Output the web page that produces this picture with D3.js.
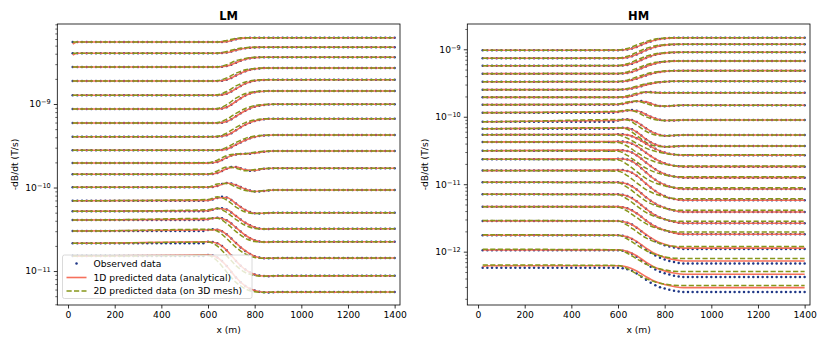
<!DOCTYPE html>
<meta charset="utf-8">
<style>
body { margin: 0; background: #fff; }
svg { font-family: "DejaVu Sans", sans-serif; }
</style>
<body>
<script src="https://cdn.jsdelivr.net/npm/d3@7"></script>
<script>

// receiver stations along the line (m)
var stations = d3.range(20, 1401, 20);
// stations where the soundings bend (the obs "mid" arrays below)
var midStations = d3.range(600, 881, 20);
// x positions of the predicted-curve values
var knots = [20, 40, 600, 640, 680, 720, 760, 800, 840, 880, 1400];
var xTicks = [0, 200, 400, 600, 800, 1000, 1200, 1400];

// all -dB/dt values are in pT/s (1e-12 T/s), one row per time channel
var pT = 1e-12;

// ---------- LM ----------
var lmObsLeft  = [5530, 4050, 2770, 1885, 1271, 871, 592, 406, 279, 196.5, 144, 100.6, 69.5, 51.9, 40.8, 30.1, 21.5, 15.1];
var lmObsRight = [6220, 4780, 3630, 2700, 1954, 1431, 992, 667, 425, 274, 170, 93.3, 49.9, 32.1, 22.4, 14.3, 8.78, 5.60];
var lmObsMid = [
  [5530,5530,5530,5540,5590,5760,5970,6120,6190,6220,6220,6220,6220,6220,6220],
  [4050,4050,4050,4070,4130,4260,4400,4550,4660,4730,4760,4780,4780,4780,4780],
  [2770,2770,2770,2790,2850,2960,3130,3300,3430,3520,3590,3630,3630,3630,3630],
  [1885,1885,1885,1905,1955,2055,2190,2340,2470,2565,2630,2670,2690,2700,2700],
  [1271,1271,1271,1288,1327,1410,1523,1646,1755,1839,1896,1929,1945,1954,1954],
  [871,871,871,884,915,982,1073,1173,1264,1335,1381,1409,1423,1431,1431],
  [592,592,592,598,617,657,713,774,832,885,927,956,976,987,992],
  [406,406,406,410,422,448,486,526,564,598,625,644,657,664,667],
  [279,279,279,281,288,303,325,347,369,388,403,413,420,423,425],
  [196,198,202,213,228,241,249,252,253,254,259,265,269,272,274],
  [144,145,149,158,168,176,176,170,163,159,160,164,168,169,170],
  [100.6,101.4,104.2,110.2,113.2,111.7,107.2,101.4,95.9,92.0,89.5,89.5,90.8,92.0,93.3],
  [70.2,71.8,74.9,77.4,75.9,70.9,64.3,58.4,53.8,50.9,49.1,48.8,49.2,49.5,49.9],
  [52.6,54.1,56.0,56.5,54.5,50.2,45.6,41.4,37.9,35.3,33.5,32.4,31.8,31.8,32.0],
  [41.6,42.8,43.5,42.9,40.5,37.1,33.2,29.7,26.8,24.7,23.3,22.6,22.2,22.2,22.4],
  [31.0,31.6,31.3,30.0,27.5,24.5,21.6,19.2,17.4,16.0,15.0,14.5,14.2,14.2,14.2],
  [22.4,22.2,21.5,19.9,17.7,15.3,13.2,11.6,10.4,9.6,9.1,8.83,8.71,8.69,8.71],
  [15.6,15.3,14.5,13.2,11.5,9.73,8.36,7.32,6.61,6.12,5.83,5.65,5.56,5.55,5.56]
];
var lm1D = [
  [5230,5530,5530,5530,5590,5970,6190,6220,6220,6220,6220],
  [3860,4050,4050,4050,4130,4400,4660,4760,4780,4780,4780],
  [2770,2770,2770,2770,2850,3130,3430,3590,3630,3630,3630],
  [1885,1885,1885,1885,1955,2190,2470,2630,2690,2700,2700],
  [1271,1271,1271,1271,1327,1523,1755,1896,1945,1954,1954],
  [871,871,871,871,915,1073,1264,1381,1423,1431,1431],
  [592,592,592,592,617,713,832,927,976,992,992],
  [406,406,406,406,422,486,564,625,657,667,667],
  [279,279,279,279,288,325,369,403,420,425,425],
  [196.5,196.5,196,202,228,249,253,259,269,274,274],
  [144,144,144,149,168,176,163,160,168,170,170],
  [100.6,100.6,100.6,104.2,113.2,107.2,95.9,89.5,90.8,93.3,93.3],
  [69.5,69.5,70.2,74.9,75.9,64.3,53.8,49.1,49.2,49.9,49.9],
  [51.9,51.9,52.6,56.0,54.5,45.6,37.9,33.5,31.8,32.0,32.1],
  [40.8,40.8,41.6,43.5,40.5,33.2,26.8,23.3,22.2,22.4,22.4],
  [30.1,30.1,31.0,31.3,27.5,21.6,17.4,15.0,14.2,14.2,14.3],
  [21.5,21.5,22.4,21.5,17.7,13.2,10.4,9.1,8.71,8.71,8.78],
  [15.1,15.1,15.6,14.5,11.5,8.36,6.61,5.83,5.56,5.56,5.60]
];
var lm2D = [
  [5530,5530,5530,5540,5760,6120,6220,6220,6220,6220,6220],
  [4050,4050,4050,4070,4260,4550,4730,4780,4780,4780,4780],
  [2770,2770,2770,2790,2960,3300,3520,3630,3630,3630,3630],
  [1885,1885,1885,1905,2055,2340,2565,2670,2700,2700,2700],
  [1271,1271,1271,1288,1410,1646,1839,1929,1954,1954,1954],
  [871,871,871,884,982,1173,1335,1409,1431,1431,1431],
  [592,592,592,598,657,774,885,956,987,992,992],
  [406,406,406,410,448,526,598,644,664,667,667],
  [279,279,279,281,303,347,388,413,423,425,425],
  [196.5,196.5,198,213,241,252,254,265,272,274,274],
  [144,144,145,158,176,170,159,164,169,170,170],
  [100.6,100.6,101.4,110.2,111.7,101.4,92.0,89.5,92.0,93.3,93.3],
  [69.5,69.5,71.8,77.4,70.9,58.4,50.9,48.8,49.5,49.9,49.9],
  [51.9,51.9,54.1,56.5,50.2,41.4,35.3,32.4,31.8,32.1,32.1],
  [40.8,40.8,42.8,42.9,37.1,29.7,24.7,22.6,22.2,22.4,22.4],
  [30.1,30.1,31.6,30.0,24.5,19.2,16.0,14.5,14.2,14.3,14.3],
  [21.5,21.5,22.2,19.9,15.3,11.6,9.6,8.83,8.69,8.78,8.78],
  [15.1,15.1,15.3,13.2,9.73,7.32,6.12,5.65,5.55,5.60,5.60]
];

// ---------- HM ----------
var hmObsLeft  = [967, 736, 571, 435, 331, 252, 194, 151, 115, 84.5, 66.5, 54.2, 42.3, 31.4, 23.4, 15.9, 10.7, 7.09, 4.65, 2.85, 1.75, 1.05, 0.579];
var hmObsRight = [1485, 1186, 903, 671, 482, 336, 227, 148, 89.6, 53.7, 36.9, 26.9, 18.2, 12.5, 8.50, 5.78, 3.88, 2.64, 1.81, 1.10, 0.668, 0.422, 0.253];
var hmObsMid = [
  [967,975,992,1027,1085,1158,1235,1306,1369,1417,1448,1466,1478,1485,1485],
  [736,743,757,786,837,899,966,1028,1083,1125,1153,1170,1181,1186,1186],
  [571,577,587,609,646,692,742,787,827,858,878,890,899,903,903],
  [435,439,446,462,489,522,557,589,618,640,654,662,668,671,671],
  [331,334,339,349,367,388,410,430,449,462,471,476,480,482,482],
  [252,253,256,262,272,284,297,308,318,325,330,333,335,336,336],
  [194,195,197,204,214,224,231,233,229,226,226,227,227,227,227],
  [152,155,160,166,170,171,166,157,149,144,143,144,146,147,148],
  [118,121,124,126,123,117,108,99.9,93.9,90.2,88.0,87.7,88.3,88.9,89.6],
  [88.0,90.8,91.7,89.6,83.6,75.5,67.5,60.9,56.3,53.7,52.4,52.2,52.8,53.3,53.7],
  [68.2,68.9,68.2,65.2,59.5,52.6,46.5,41.8,38.7,36.9,36.0,35.9,36.1,36.5,36.9],
  [55.0,55.0,53.8,51.6,48.1,43.9,39.8,36.3,33.4,31.1,29.6,28.4,27.6,27.2,26.9],
  [43.0,43.0,41.9,39.9,36.7,32.8,29.2,26.2,23.7,21.7,20.5,19.5,18.8,18.5,18.2],
  [32.0,32.0,31.1,29.4,26.9,23.8,20.9,18.6,16.6,15.2,14.2,13.5,13.0,12.7,12.5],
  [23.9,23.9,23.2,21.8,19.7,17.3,15.0,13.1,11.6,10.5,9.79,9.21,8.84,8.67,8.50],
  [16.2,16.2,15.7,14.8,13.4,11.7,10.2,8.93,7.91,7.15,6.66,6.27,6.02,5.90,5.78],
  [10.7,10.5,10.1,9.36,8.37,7.34,6.43,5.70,5.15,4.75,4.47,4.25,4.08,3.96,3.88],
  [7.09,6.95,6.68,6.23,5.59,4.92,4.32,3.84,3.48,3.21,3.03,2.88,2.77,2.69,2.64],
  [4.65,4.56,4.39,4.11,3.71,3.28,2.90,2.59,2.36,2.19,2.07,1.97,1.90,1.85,1.81],
  [2.85,2.80,2.69,2.52,2.27,2.00,1.77,1.58,1.43,1.33,1.25,1.19,1.15,1.12,1.10],
  [1.75,1.72,1.65,1.54,1.39,1.23,1.08,0.964,0.875,0.810,0.764,0.728,0.701,0.681,0.668],
  [1.05,1.03,0.993,0.932,0.843,0.749,0.665,0.596,0.544,0.506,0.479,0.458,0.441,0.429,0.422],
  [0.579,0.569,0.551,0.520,0.474,0.426,0.382,0.346,0.319,0.298,0.284,0.272,0.263,0.257,0.253]
];
var hm1D = [
  [967,967,967,992,1085,1235,1369,1448,1478,1485,1485],
  [736,736,736,757,837,966,1083,1153,1181,1186,1186],
  [571,571,571,587,646,742,827,878,899,903,903],
  [435,435,435,446,489,557,618,654,668,671,671],
  [331,331,331,339,367,410,449,471,480,482,482],
  [252,252,252,256,272,297,318,330,335,336,336],
  [194,194,194,197,214,231,229,226,227,227,227],
  [151,151,152,160,170,166,149,143,146,148,148],
  [115,115,118,124,123,108,93.9,88.0,88.3,89.6,89.6],
  [84.5,84.5,88.0,91.7,83.6,67.5,56.3,52.4,52.8,53.7,53.7],
  [66.5,66.5,68.2,68.2,59.5,46.5,38.7,36.0,36.1,36.9,36.9],
  [54.2,54.2,55.0,53.8,48.1,39.8,33.4,29.6,27.6,26.9,26.9],
  [42.3,42.3,43.0,41.9,36.7,29.2,23.7,20.5,18.8,18.2,18.2],
  [31.4,31.4,32.0,31.1,26.9,20.9,16.6,14.2,13.0,12.5,12.5],
  [23.4,23.4,23.9,23.2,19.7,15.0,11.6,9.79,8.84,8.50,8.50],
  [15.9,15.9,16.2,15.7,13.4,10.2,7.91,6.66,6.02,5.78,5.78],
  [10.7,10.7,10.7,10.1,8.37,6.43,5.15,4.47,4.08,3.88,3.88],
  [7.09,7.09,7.09,6.68,5.59,4.32,3.48,3.03,2.77,2.64,2.64],
  [4.65,4.65,4.65,4.39,3.71,2.90,2.36,2.07,1.90,1.81,1.81],
  [2.85,2.85,2.85,2.70,2.28,1.80,1.47,1.29,1.19,1.13,1.13],
  [1.75,1.75,1.75,1.66,1.42,1.13,0.931,0.823,0.761,0.728,0.728],
  [1.06,1.06,1.06,1.01,0.869,0.700,0.583,0.519,0.482,0.462,0.462],
  [0.600,0.620,0.620,0.593,0.518,0.426,0.361,0.325,0.304,0.293,0.293]
];
var hm2D = [
  [967,967,975,1027,1158,1306,1417,1466,1485,1485,1485],
  [736,736,743,786,899,1028,1125,1170,1186,1186,1186],
  [571,571,577,609,692,787,858,890,903,903,903],
  [435,435,439,462,522,589,640,662,671,671,671],
  [331,331,334,349,388,430,462,476,482,482,482],
  [252,252,253,262,284,308,325,333,336,336,336],
  [194,194,195,204,224,233,226,227,227,227,227],
  [151,151,155,166,171,157,144,144,147,148,148],
  [115,115,121,126,117,99.9,90.2,87.7,88.9,89.6,89.6],
  [84.5,84.5,90.8,89.6,75.5,60.9,53.7,52.2,53.3,53.7,53.7],
  [66.5,66.5,68.9,65.2,52.6,41.8,36.9,35.9,36.5,36.9,36.9],
  [54.2,54.2,53.5,47.9,40.4,34.2,30.7,28.6,27.5,27.3,27.3],
  [42.3,42.3,41.6,36.5,29.7,24.4,21.4,19.7,18.8,18.6,18.6],
  [31.4,31.4,30.8,26.7,21.4,17.3,15.0,13.7,13.0,12.9,12.9],
  [23.4,23.4,22.9,19.6,15.4,12.2,10.4,9.47,8.93,8.84,8.84],
  [15.9,15.9,15.6,13.4,10.5,8.34,7.15,6.50,6.13,6.07,6.07],
  [10.7,10.7,10.5,8.99,7.08,5.63,4.83,4.39,4.15,4.11,4.11],
  [7.09,7.09,6.96,6.01,4.77,3.82,3.30,3.01,2.85,2.82,2.82],
  [4.65,4.65,4.57,3.98,3.20,2.60,2.26,2.07,1.97,1.95,1.95],
  [2.90,2.90,2.85,2.47,1.98,1.60,1.39,1.27,1.20,1.19,1.19],
  [1.78,1.78,1.75,1.54,1.26,1.04,0.910,0.839,0.800,0.793,0.793],
  [1.085,1.085,1.069,0.947,0.784,0.653,0.579,0.537,0.513,0.509,0.509],
  [0.635,0.635,0.626,0.560,0.470,0.398,0.355,0.331,0.318,0.316,0.316]
];

var legendLabels = ["Observed data", "1D predicted data (analytical)", "2D predicted data (on 3D mesh)"];

var colObs = "#1f3787",
    col1D = "#f5604a",
    col2D = "#86961a";

var svg = d3.select("body").append("svg")
    .attr("width", 830)
    .attr("height", 346);

var plotTop = 24, plotBottom = 305, plotW = 342.7;

var panels = [
  {title: "LM", x0: 57.3, yDomain: [3.92e-12, 9.08e-9], obsL: lmObsLeft, obsMid: lmObsMid, obsR: lmObsRight, p1: lm1D, p2: lm2D, legend: true},
  {title: "HM", x0: 467.3, yDomain: [1.62e-13, 2.37e-9], obsL: hmObsLeft, obsMid: hmObsMid, obsR: hmObsRight, p1: hm1D, p2: hm2D, legend: false}
];

function obsSeries(left, mid, right) {
  return stations.map(function(s) {
    if (s < midStations[0]) return [s, left];
    if (s > midStations[midStations.length - 1]) return [s, right];
    return [s, mid[midStations.indexOf(s)]];
  });
}

function supLabel(sel, d) {
  sel.text("10");
  sel.append("tspan")
    .attr("dy", "-0.45em")
    .attr("font-size", "6.6px")
    .text("\u2212" + Math.round(-Math.log10(d)));
}

panels.forEach(function(p) {
  var x = d3.scaleLinear().domain([-46, 1423]).range([p.x0, p.x0 + plotW]);
  var y = d3.scaleLog().domain(p.yDomain).range([plotBottom, plotTop]);

  var g = svg.append("g");

  var line = d3.line()
      .x(function(d) { return x(d[0]); })
      .y(function(d) { return y(d[1] * pT); })
      .curve(d3.curveMonotoneX);

  p.obsL.forEach(function(L, i) {
    var obs = obsSeries(L, p.obsMid[i], p.obsR[i]);
    g.append("g").selectAll("circle")
      .data(obs)
      .enter().append("circle")
        .attr("cx", function(d) { return x(d[0]); })
        .attr("cy", function(d) { return y(d[1] * pT); })
        .attr("r", 1.25)
        .attr("fill", colObs);

    g.append("path")
      .datum(knots.map(function(k, j) { return [k, p.p1[i][j]]; }))
      .attr("d", line)
      .attr("fill", "none")
      .attr("stroke", col1D)
      .attr("stroke-opacity", 0.9)
      .attr("stroke-width", 1.6);

    g.append("path")
      .datum(knots.map(function(k, j) { return [k, p.p2[i][j]]; }))
      .attr("d", line)
      .attr("fill", "none")
      .attr("stroke", col2D)
      .attr("stroke-width", 1.5)
      .attr("stroke-dasharray", "5.2,2.3");
  });

  // frame
  svg.append("rect")
    .attr("x", p.x0).attr("y", plotTop)
    .attr("width", plotW).attr("height", plotBottom - plotTop)
    .attr("fill", "none").attr("stroke", "#000").attr("stroke-width", 0.8);

  // x axis
  var gx = svg.append("g")
    .attr("transform", "translate(0," + plotBottom + ")")
    .call(d3.axisBottom(x).tickValues(xTicks).tickSize(3.5).tickPadding(3).tickFormat(d3.format("d")));
  gx.select(".domain").remove();
  gx.selectAll("text").attr("font-size", 9.2).attr("font-family", "DejaVu Sans").attr("fill", "#000");
  gx.selectAll("line").attr("stroke-width", 0.8);

  // y axis: decades + minor ticks
  var lo = Math.floor(Math.log10(p.yDomain[0])), hi = Math.ceil(Math.log10(p.yDomain[1]));
  var majors = [], minors = [];
  for (var e = lo; e <= hi; e++) {
    var v = Math.pow(10, e);
    if (v >= p.yDomain[0] && v <= p.yDomain[1]) majors.push(v);
    for (var m = 2; m <= 9; m++) {
      if (m * v >= p.yDomain[0] && m * v <= p.yDomain[1]) minors.push(m * v);
    }
  }
  var gyMinor = svg.append("g")
    .attr("transform", "translate(" + p.x0 + ",0)")
    .call(d3.axisLeft(y).tickValues(minors).tickSize(2).tickFormat(""));
  gyMinor.select(".domain").remove();
  gyMinor.selectAll("line").attr("stroke-width", 0.6);

  var gy = svg.append("g")
    .attr("transform", "translate(" + p.x0 + ",0)")
    .call(d3.axisLeft(y).tickValues(majors).tickSize(3.5).tickPadding(3));
  gy.select(".domain").remove();
  gy.selectAll("line").attr("stroke-width", 0.8);
  gy.selectAll("text")
    .attr("font-size", 9.2).attr("font-family", "DejaVu Sans").attr("fill", "#000")
    .each(function(d) { supLabel(d3.select(this), d); });

  // titles and labels
  var cx = p.x0 + plotW / 2;
  svg.append("text")
    .attr("x", cx).attr("y", 19.5)
    .attr("text-anchor", "middle")
    .attr("font-size", 11.5).attr("font-weight", "bold")
    .text(p.title);
  svg.append("text")
    .attr("x", cx).attr("y", 333)
    .attr("text-anchor", "middle")
    .attr("font-size", 9.2)
    .text("x (m)");
  svg.append("text")
    .attr("transform", "translate(" + (p.x0 - 39) + "," + ((plotTop + plotBottom) / 2) + ") rotate(-90)")
    .attr("text-anchor", "middle")
    .attr("font-size", 9.2)
    .text("-dB/dt (T/s)");

  if (p.legend) {
    var lg = svg.append("g").attr("transform", "translate(62.5,255)");
    lg.append("rect")
      .attr("width", 189.5).attr("height", 43.5).attr("rx", 2)
      .attr("fill", "#fff").attr("fill-opacity", 0.8)
      .attr("stroke", "#d0d0d0").attr("stroke-width", 0.8);
    var rowY = [8.5, 22.5, 36];
    lg.append("circle").attr("cx", 14).attr("cy", rowY[0]).attr("r", 1.25).attr("fill", colObs);
    lg.append("line").attr("x1", 4).attr("x2", 24).attr("y1", rowY[1]).attr("y2", rowY[1])
      .attr("stroke", col1D).attr("stroke-opacity", 0.9).attr("stroke-width", 1.6);
    lg.append("line").attr("x1", 4).attr("x2", 24).attr("y1", rowY[2]).attr("y2", rowY[2])
      .attr("stroke", col2D).attr("stroke-width", 1.5).attr("stroke-dasharray", "5.2,2.3");
    legendLabels.forEach(function(t, i) {
      lg.append("text")
        .attr("x", 31).attr("y", rowY[i] + 3.3)
        .attr("font-size", 9.2)
        .text(t);
    });
  }
});

</script>
